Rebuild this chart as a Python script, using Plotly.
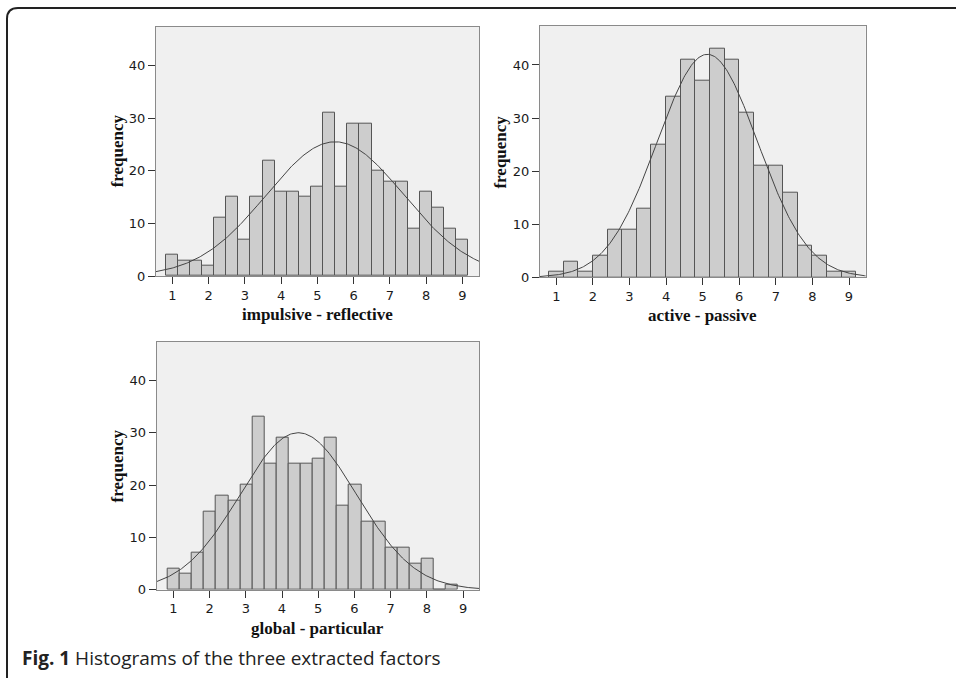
import numpy as np
import plotly.graph_objects as go

W, H = 956, 686

# ---- data ----
ir_counts = [4, 3, 3, 2, 11, 15, 7, 15, 22, 16, 16, 15, 17, 31, 17, 29, 29, 20, 18, 18, 9, 16, 13, 9, 7]
ir_bin_start, ir_bin_width = 0.818, 0.334
ir_mean, ir_sd = 5.49, 1.89

ap_counts = [1, 3, 1, 4, 9, 9, 13, 25, 34, 41, 37, 43, 41, 31, 21, 21, 16, 6, 4, 1, 1]
ap_bin_start, ap_bin_width = 0.80, 0.40
ap_mean, ap_sd = 5.13, 1.375

gp_counts = [4, 3, 7, 15, 18, 17, 20, 33, 24, 29, 24, 24, 25, 29, 16, 20, 13, 13, 8, 8, 5, 6, 0, 1]
gp_bin_start, gp_bin_width = 0.845, 0.334
gp_mean, gp_sd = 4.45, 1.608

x_ticks = [1, 2, 3, 4, 5, 6, 7, 8, 9]
y_ticks = [0, 10, 20, 30, 40]
titles = ["impulsive - reflective", "active - passive", "global - particular"]

panels = [
    dict(counts=ir_counts, start=ir_bin_start, width=ir_bin_width, mu=ir_mean, sd=ir_sd,
         px=(156, 479), py=(27, 279.3), xr=(0.55, 9.46), title=titles[0]),
    dict(counts=ap_counts, start=ap_bin_start, width=ap_bin_width, mu=ap_mean, sd=ap_sd,
         px=(540, 865.7), py=(26, 280.7), xr=(0.555, 9.456), title=titles[1]),
    dict(counts=gp_counts, start=gp_bin_start, width=gp_bin_width, mu=gp_mean, sd=gp_sd,
         px=(156.7, 479), py=(345.7, 596.7), xr=(0.54, 9.44), title=titles[2]),
]

fig = go.Figure()
annotations = []
tick_font = dict(family="DejaVu Sans", size=13, color="#1a1a1a")
title_font = dict(family="Liberation Serif", size=17, color="#111")

for i, p in enumerate(panels):
    k = "" if i == 0 else str(i + 1)
    counts = np.array(p["counts"], dtype=float)
    centers = p["start"] + (np.arange(len(counts)) + 0.5) * p["width"]
    n = counts.sum()
    fig.add_trace(go.Bar(
        x=centers, y=counts, width=p["width"],
        marker=dict(color="#cdcdcd", line=dict(color="#555555", width=1)),
        xaxis="x" + k, yaxis="y" + k, showlegend=False, hoverinfo="x+y",
    ))
    xs = np.linspace(p["xr"][0], p["xr"][1], 300)
    ys = n * p["width"] / (p["sd"] * np.sqrt(2 * np.pi)) * np.exp(-0.5 * ((xs - p["mu"]) / p["sd"]) ** 2)
    fig.add_trace(go.Scatter(
        x=xs, y=ys, mode="lines", line=dict(color="#444444", width=1),
        xaxis="x" + k, yaxis="y" + k, showlegend=False, hoverinfo="skip",
    ))
    x0, x1 = p["px"][0] / W, p["px"][1] / W
    y0, y1 = 1 - p["py"][1] / H, 1 - p["py"][0] / H
    common = dict(showline=True, mirror=True, linecolor="#8a8a8a", linewidth=1,
                  showgrid=False, zeroline=False, ticks="outside", ticklen=7,
                  tickcolor="#333", tickwidth=1, tickfont=tick_font)
    fig.update_layout(**{
        "xaxis" + k: dict(domain=[x0, x1], range=list(p["xr"]), anchor="y" + k,
                          tickmode="array", tickvals=x_ticks, **common),
        "yaxis" + k: dict(domain=[y0, y1], range=[0, 47.4], anchor="x" + k,
                          tickmode="array", tickvals=y_ticks, **common),
    })
    cx = (p["px"][0] + p["px"][1]) / 2
    annotations.append(dict(text="<b>" + p["title"] + "</b>", xref="paper", yref="paper",
                            x=cx / W, y=1 - (p["py"][1] + 39) / H, xanchor="center",
                            yanchor="middle", showarrow=False, font=title_font))
    cy = (p["py"][0] + p["py"][1]) / 2
    annotations.append(dict(text="<b>frequency</b>", xref="paper", yref="paper",
                            x=(p["px"][0] - 39) / W, y=1 - cy / H, xanchor="center",
                            yanchor="middle", textangle=-90, showarrow=False, font=title_font))

annotations.append(dict(text="<b>Fig. 1</b> Histograms of the three extracted factors",
                        xref="paper", yref="paper", x=20 / W, y=1 - 666 / H,
                        xanchor="left", yanchor="middle", showarrow=False,
                        font=dict(family="Open Sans", size=19, color="#222")))

# page frame with rounded top-left corner
lx, ty, r = 7, 8, 11
path = (f"M {lx/W},0 L {lx/W},{1-(ty+r)/H} "
        f"Q {lx/W},{1-ty/H} {(lx+r)/W},{1-ty/H} L 1,{1-ty/H}")
shapes = [dict(type="path", path=path, xref="paper", yref="paper",
               line=dict(color="#222", width=2))]

fig.update_layout(
    width=W, height=H, margin=dict(l=0, r=0, t=0, b=0),
    paper_bgcolor="white", plot_bgcolor="#f0f0f0",
    bargap=0, annotations=annotations, shapes=shapes,
)

fig.write_html("out.html", config={"displayModeBar": False},
               post_script="document.body.style.margin='0';document.body.style.overflow='hidden';")
